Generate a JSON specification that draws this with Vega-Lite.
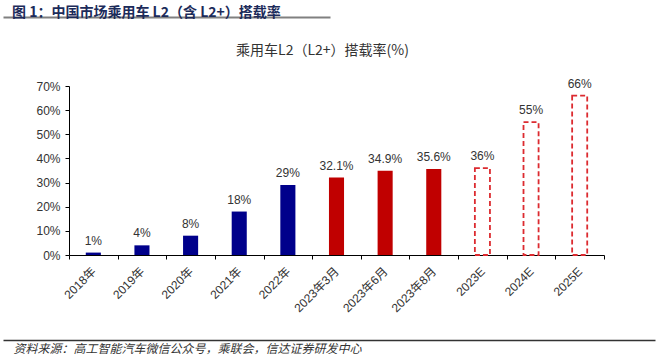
{
  "$schema": "https://vega.github.io/schema/vega-lite/v6.json",
  "width": 535,
  "height": 169,
  "autosize": {"type": "none"},
  "padding": {"left": 69, "top": 86, "right": 55, "bottom": 100},
  "background": "white",
  "config": {
    "view": {"stroke": null},
    "font": "Liberation Sans, Noto Sans CJK SC",
    "axis": {"grid": false}
  },
  "title": {
    "text": "图 1：中国市场乘用车 L2（含 L2+）搭载率",
    "anchor": "start",
    "frame": "group",
    "dx": -57,
    "offset": -3,
    "fontSize": 14,
    "fontWeight": "bold",
    "color": "#1c2b5a",
    "font": "Noto Sans CJK SC"
  },
  "layer": [
    {
      "data": {
        "values": [
          {"period": "2018年", "rate": 0.01, "kind": "actual"},
          {"period": "2019年", "rate": 0.04, "kind": "actual"},
          {"period": "2020年", "rate": 0.08, "kind": "actual"},
          {"period": "2021年", "rate": 0.18, "kind": "actual"},
          {"period": "2022年", "rate": 0.29, "kind": "actual"},
          {"period": "2023年3月", "rate": 0.321, "kind": "ytd2023"},
          {"period": "2023年6月", "rate": 0.349, "kind": "ytd2023"},
          {"period": "2023年8月", "rate": 0.356, "kind": "ytd2023"},
          {"period": "2023E", "rate": 0.36, "kind": "forecast"},
          {"period": "2024E", "rate": 0.55, "kind": "forecast"},
          {"period": "2025E", "rate": 0.66, "kind": "forecast"}
        ]
      },
      "encoding": {
        "x": {
          "field": "period",
          "type": "nominal",
          "sort": null,
          "scale": {"paddingInner": 0, "paddingOuter": 0},
          "axis": {
            "tickBand": "extent",
            "tickSize": 4,
            "tickColor": "#000",
            "domainColor": "#000",
            "labelAngle": -45,
            "labelAlign": "right",
            "labelBaseline": "middle",
            "labelPadding": 10,
            "labelFontSize": 12,
            "labelColor": "#333",
            "title": "资料来源：高工智能汽车微信公众号，乘联会，信达证券研发中心",
            "titleX": -56,
            "titleY": 93,
            "titleAngle": 0,
            "titleAlign": "left",
            "titleBaseline": "middle",
            "titleFont": "Noto Sans CJK SC",
            "titleFontStyle": "italic",
            "titleFontWeight": "normal",
            "titleFontSize": 12,
            "titleColor": "#333"
          }
        },
        "y": {
          "field": "rate",
          "type": "quantitative",
          "scale": {"domain": [0, 0.7], "nice": false},
          "axis": {
            "values": [0, 0.1, 0.2, 0.3, 0.4, 0.5, 0.6, 0.7],
            "format": ".0%",
            "tickSize": 4,
            "tickColor": "#000",
            "domainColor": "#000",
            "labelPadding": 5,
            "labelFontSize": 12,
            "labelColor": "#333",
            "title": "乘用车L2（L2+）搭载率(%)",
            "titleAngle": 0,
            "titleX": 253,
            "titleY": -36,
            "titleAlign": "center",
            "titleBaseline": "middle",
            "titleFont": "Noto Sans CJK SC",
            "titleFontWeight": "normal",
            "titleFontSize": 14,
            "titleColor": "#333"
          }
        }
      },
      "layer": [
        {
          "transform": [{"filter": "datum.kind !== 'forecast'"}],
          "mark": {"type": "bar", "width": {"band": 0.31}},
          "encoding": {
            "color": {
              "field": "kind",
              "type": "nominal",
              "scale": {"domain": ["actual", "ytd2023"], "range": ["#00008B", "#C00000"]},
              "legend": null
            }
          }
        },
        {
          "transform": [{"filter": "datum.kind === 'forecast'"}],
          "mark": {
            "type": "bar",
            "width": {"band": 0.31},
            "fill": "white",
            "stroke": "#DC2B30",
            "strokeDash": [5, 3],
            "strokeWidth": 1.8
          }
        },
        {
          "mark": {"type": "text", "baseline": "bottom", "dy": -5, "fontSize": 12, "color": "#333"},
          "encoding": {"text": {"field": "rate", "type": "quantitative", "format": ".1~%"}}
        }
      ]
    },
    {
      "data": {"values": []},
      "mark": "rule",
      "encoding": {
        "x": {
          "field": "v",
          "type": "quantitative",
          "scale": {"domain": [0, 1], "range": [-66, 261], "nice": false, "zero": false},
          "axis": {
            "orient": "top",
            "offset": 69,
            "domainColor": "#808080",
            "domainWidth": 2,
            "ticks": false,
            "labels": false,
            "title": null
          }
        }
      }
    },
    {
      "data": {"values": []},
      "mark": "rule",
      "encoding": {
        "x": {
          "field": "w",
          "type": "quantitative",
          "scale": {"domain": [0, 1], "range": [-66, 586], "nice": false, "zero": false},
          "axis": {
            "orient": "bottom",
            "offset": 85,
            "domainColor": "#333",
            "domainWidth": 1.5,
            "ticks": false,
            "labels": false,
            "title": null
          }
        }
      }
    }
  ],
  "resolve": {"scale": {"x": "independent"}, "axis": {"x": "independent"}}
}
